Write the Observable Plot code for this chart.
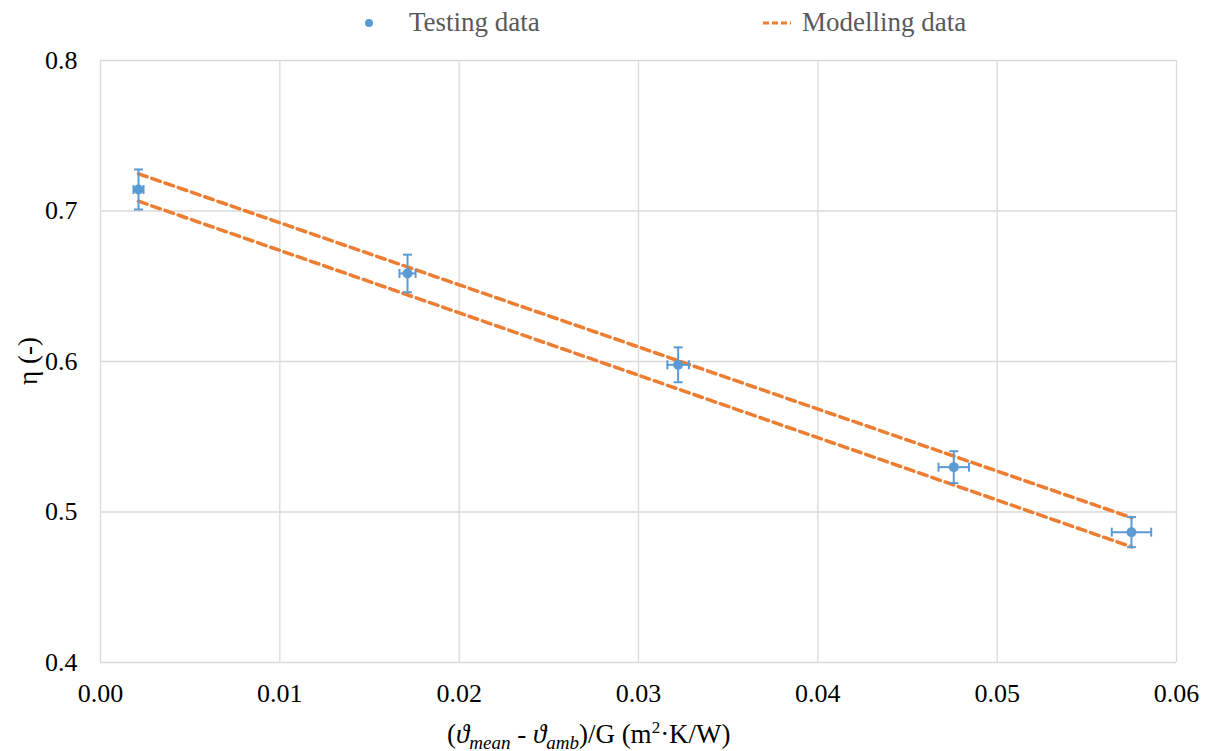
<!DOCTYPE html>
<html>
<head>
<meta charset="utf-8">
<script src="https://cdn.jsdelivr.net/npm/d3@7"></script>
<script src="https://cdn.jsdelivr.net/npm/@observablehq/plot@0.6"></script>
<style>
  body { margin: 0; background: #fff; font-family: "Liberation Serif", "Times New Roman", serif; }
  #legend { position: relative; width: 1209px; height: 45px; }
  #legend .item { position: absolute; top: 0; height: 45px; display: flex; align-items: center; font-size: 27px; color: #595959; }
  #legend svg { display: block; }
</style>
</head>
<body>
<div id="legend">
  <div class="item" style="left:362px;">
    <svg width="14" height="14"><circle cx="7" cy="7" r="4" fill="#5b9bd5"></circle></svg>
    <span style="margin-left:33px;">Testing data</span>
  </div>
  <div class="item" style="left:762px;">
    <svg width="30" height="10"><line x1="1" y1="5" x2="29" y2="5" stroke="#ed7d31" stroke-width="3" stroke-dasharray="6,3"></line></svg>
    <span style="margin-left:10px;">Modelling data</span>
  </div>
</div>
<div id="chart"></div>
<script>
// Testing data (x, y, error bars)
const testX = [0.00212, 0.01712, 0.03221, 0.04758, 0.05749];
const testY = [0.7143, 0.6585, 0.5978, 0.5298, 0.4866];
const errX  = [0.00028, 0.00045, 0.0006, 0.00085, 0.0011];
const errY  = [0.0133, 0.0125, 0.0116, 0.0106, 0.0100];

// Modelling data (upper and lower bounds)
const modelX     = [0.00212, 0.0575];
const modelUpper = [0.7247, 0.4962];
const modelLower = [0.7065, 0.4768];

// Tick values
const xTicks = [0, 0.01, 0.02, 0.03, 0.04, 0.05, 0.06];
const yTicks = [0.4, 0.5, 0.6, 0.7, 0.8];

const testing = testX.map((x, i) => ({x, y: testY[i], ex: errX[i], ey: errY[i]}));
const model = [
  ...modelX.map((x, i) => ({x, y: modelUpper[i], band: "upper"})),
  ...modelX.map((x, i) => ({x, y: modelLower[i], band: "lower"}))
];

const blue = "#5b9bd5";
const orange = "#ed7d31";
const serif = "'Liberation Serif', 'Times New Roman', serif";
const hCap = {draw(ctx, size) { ctx.moveTo(-4.5, 0); ctx.lineTo(4.5, 0); }};
const vCap = {draw(ctx, size) { ctx.moveTo(0, -4.5); ctx.lineTo(0, 4.5); }};

const plot = Plot.plot({
  width: 1209,
  height: 706,
  marginTop: 15,
  marginLeft: 100,
  marginRight: 33,
  marginBottom: 89,
  style: {fontSize: "26px", color: "#000", background: "#fff", overflow: "visible"},
  x: {domain: [0, 0.06], label: null},
  y: {domain: [0.4, 0.8], label: null},
  marks: [
    Plot.gridX(xTicks, {stroke: "#d9d9d9", strokeOpacity: 1, strokeWidth: 1.3}),
    Plot.gridY(yTicks, {stroke: "#d9d9d9", strokeOpacity: 1, strokeWidth: 1.3}),
    Plot.axisX(xTicks, {tickSize: 0, tickPadding: 21, tickFormat: d3.format(".2f"), label: null, fill: "#000", fontSize: 26}),
    Plot.axisY(yTicks, {tickSize: 0, tickPadding: 23, tickFormat: d3.format(".1f"), label: null, fill: "#000", fontSize: 26}),
    Plot.line(model, {x: "x", y: "y", z: "band", stroke: orange, strokeWidth: 3.5, strokeDasharray: "9,5"}),
    Plot.ruleX(testing, {x: "x", y1: d => d.y - d.ey, y2: d => d.y + d.ey, stroke: blue, strokeWidth: 2}),
    Plot.ruleY(testing, {y: "y", x1: d => d.x - d.ex, x2: d => d.x + d.ex, stroke: blue, strokeWidth: 2}),
    Plot.dot(testing, {x: "x", y: d => d.y - d.ey, symbol: hCap, stroke: blue, strokeWidth: 2, r: 4}),
    Plot.dot(testing, {x: "x", y: d => d.y + d.ey, symbol: hCap, stroke: blue, strokeWidth: 2, r: 4}),
    Plot.dot(testing, {x: d => d.x - d.ex, y: "y", symbol: vCap, stroke: blue, strokeWidth: 2, r: 4}),
    Plot.dot(testing, {x: d => d.x + d.ex, y: "y", symbol: vCap, stroke: blue, strokeWidth: 2, r: 4}),
    Plot.dot(testing, {x: "x", y: "y", r: 5, fill: blue})
  ]
});

const svg = d3.select(plot);
svg.style("font-family", serif);
// x-axis title with subscripts
const xt = svg.append("text")
  .attr("x", 447).attr("y", 698)
  .attr("text-anchor", "start")
  .attr("font-size", 27).attr("fill", "#000");
xt.append("tspan").text("(");
xt.append("tspan").attr("font-style", "italic").text("ϑ");
xt.append("tspan").attr("font-style", "italic").attr("font-size", 19).attr("dy", 6).text("mean");
xt.append("tspan").attr("dy", -6).text(" - ");
xt.append("tspan").attr("font-style", "italic").text("ϑ");
xt.append("tspan").attr("font-style", "italic").attr("font-size", 19).attr("dy", 6).text("amb");
xt.append("tspan").attr("dy", -6).text(")/G (m");
xt.append("tspan").attr("font-size", 17).attr("dy", -10).text("2");
xt.append("tspan").attr("dy", 10).text("·K/W)");

// y-axis title
svg.append("text")
  .attr("transform", "translate(37,316) rotate(-90)")
  .attr("text-anchor", "middle")
  .attr("font-size", 27).attr("fill", "#000")
  .text("η (-)");

svg.selectAll("text").style("font-family", serif).style("font-variant", "normal");
document.getElementById("chart").appendChild(plot);
</script>
</body>
</html>
